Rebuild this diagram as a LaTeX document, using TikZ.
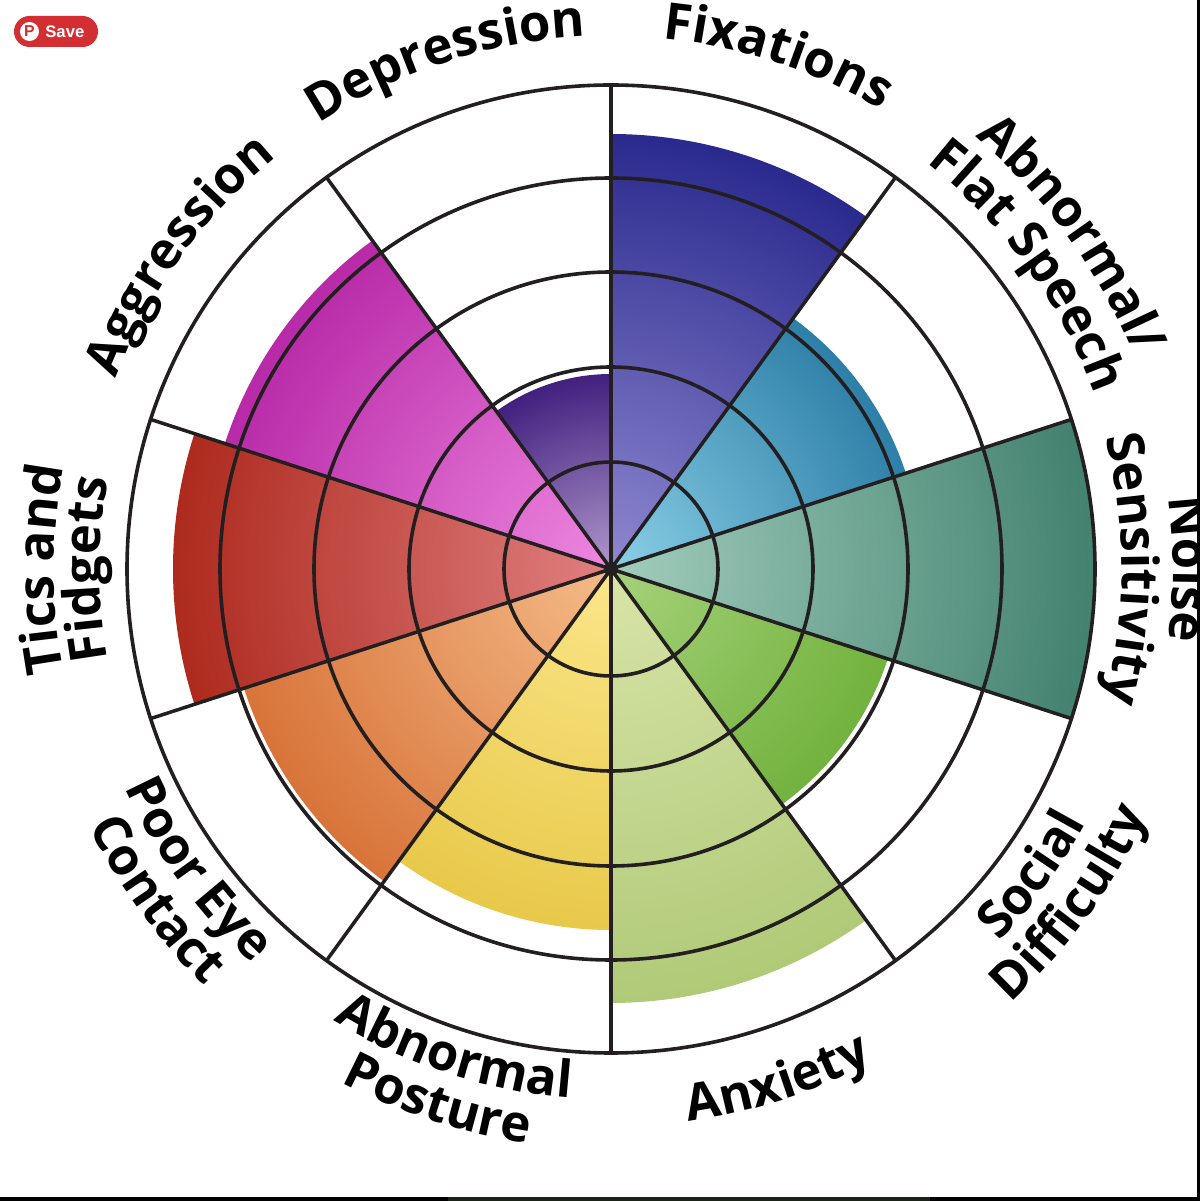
\documentclass[tikz,border=0pt]{standalone}
\usepackage{fontspec}
\setmainfont{Open Sans}
\setsansfont{Liberation Sans}
\usetikzlibrary{decorations.text}
\newcommand{\labelfont}{\fontsize{29}{32}\selectfont\bfseries}
% clockwise label, letter tops pointing away from the hub
\newcommand{\overlabel}[3]{\path [arctext, decoration={text={|\labelfont|#3}}] (#2+45:#1) arc [start angle=#2+45, end angle=#2-45, radius=#1];}
% anticlockwise label, letter tops pointing at the hub
\newcommand{\underlabel}[3]{\path [arctext, decoration={text={|\labelfont|#3}}] (#2-45:#1) arc [start angle=#2-45, end angle=#2+45, radius=#1];}
\definecolor{pinred}{HTML}{D32F33}
\definecolor{ringline}{HTML}{231F20}
\definecolor{edgeband}{HTML}{1A2414}
\begin{document}
\begin{tikzpicture}[
    x=0.02cm, y=0.02cm,
    ring/.style={draw=ringline, line width=0.072cm},
    spoke/.style={draw=ringline, line width=0.07cm},
    arctext/.style={decorate, decoration={text along path, text align=center}},
    savebtn/.style={fill=pinred, rounded corners=0.31cm},
    saveicon/.style={circle, fill=white, inner sep=0pt, minimum size=0.38cm, text=pinred, font=\sffamily\bfseries\fontsize{9}{9}\selectfont},
    savetext/.style={text=white, inner sep=0pt, anchor=west, font=\sffamily\bfseries\fontsize{9.5}{10}\selectfont}
]
    \useasboundingbox (0,0) rectangle (1200,1201);
    \clip (0,0) rectangle (1200,1201);
    \fill [white] (0,0) rectangle (1200,1201);

    \begin{scope}[shift={(611,632)}]
        % Coloured wedges
        \foreach \mid/\val/\colin/\colout in {
            72/435/8F88D0/2A2A8E,
            36/310/8AD0E6/2E7FA8,
            0/484/A2CDBD/43826F,
            -36/291/A6D27A/72B23E,
            -72/434/D8E4A8/B0CA78,
            -108/361/FBE68A/E8C94A,
            -144/386/F4BB88/D8743A,
            180/438/E08080/AE2A1E,
            144/406/EE88E0/B82AA8,
            108/195/B098CC/42207F}
        {
            \definecolor{colin}{HTML}{\colin}
            \definecolor{colout}{HTML}{\colout}
            \begin{scope}
                \clip (0,0) -- (\mid+18:\val) arc [start angle=\mid+18, end angle=\mid-18, radius=\val] -- cycle;
                \shade [inner color=colin, outer color=colout] (0,0) circle [radius=\val];
            \end{scope}
        }

        % Rings and spokes
        \foreach \rad in {107,202,297,391,484}
            \draw [ring] (0,0) circle [radius=\rad];
        \foreach \ang in {18,54,...,342}
            \draw [spoke] (0,0) -- (\ang:484);
        \fill [ringline] (0,0) circle [radius=7];

        % Labels
        \overlabel{533}{72}{Fixations}
        \overlabel{533}{108}{Depression}
        \overlabel{531}{144}{Aggression}
        \overlabel{565}{36}{Abnormal/}
        \overlabel{514}{36}{Flat Speech}
        \overlabel{562}{0}{Noise}
        \overlabel{511}{0}{Sensitivity}
        \overlabel{557}{180}{Tics and}
        \overlabel{511}{180}{Fidgets}
        \underlabel{538}{-36}{Social}
        \underlabel{590}{-36}{Difficulty}
        \underlabel{558}{-72}{Anxiety}
        \underlabel{530}{-108}{Abnormal}
        \underlabel{580}{-108}{Posture}
        \underlabel{533}{-144}{Poor Eye}
        \underlabel{582}{-144}{Contact}
    \end{scope}

    % Save button
    \fill [savebtn] (14,1154) rectangle (98,1185);
    \node [saveicon] (icon) at (29.5,1169.5) {P};
    \node [savetext] (save) at (45,1169.5) {Save};

    % Screenshot edges
    \fill [black] (1197,0) rectangle (1200,1201);
    \fill [black] (0,0) rectangle (1200,4);
    \fill [edgeband] (448,0) rectangle (930,4);
\end{tikzpicture}
\end{document}
